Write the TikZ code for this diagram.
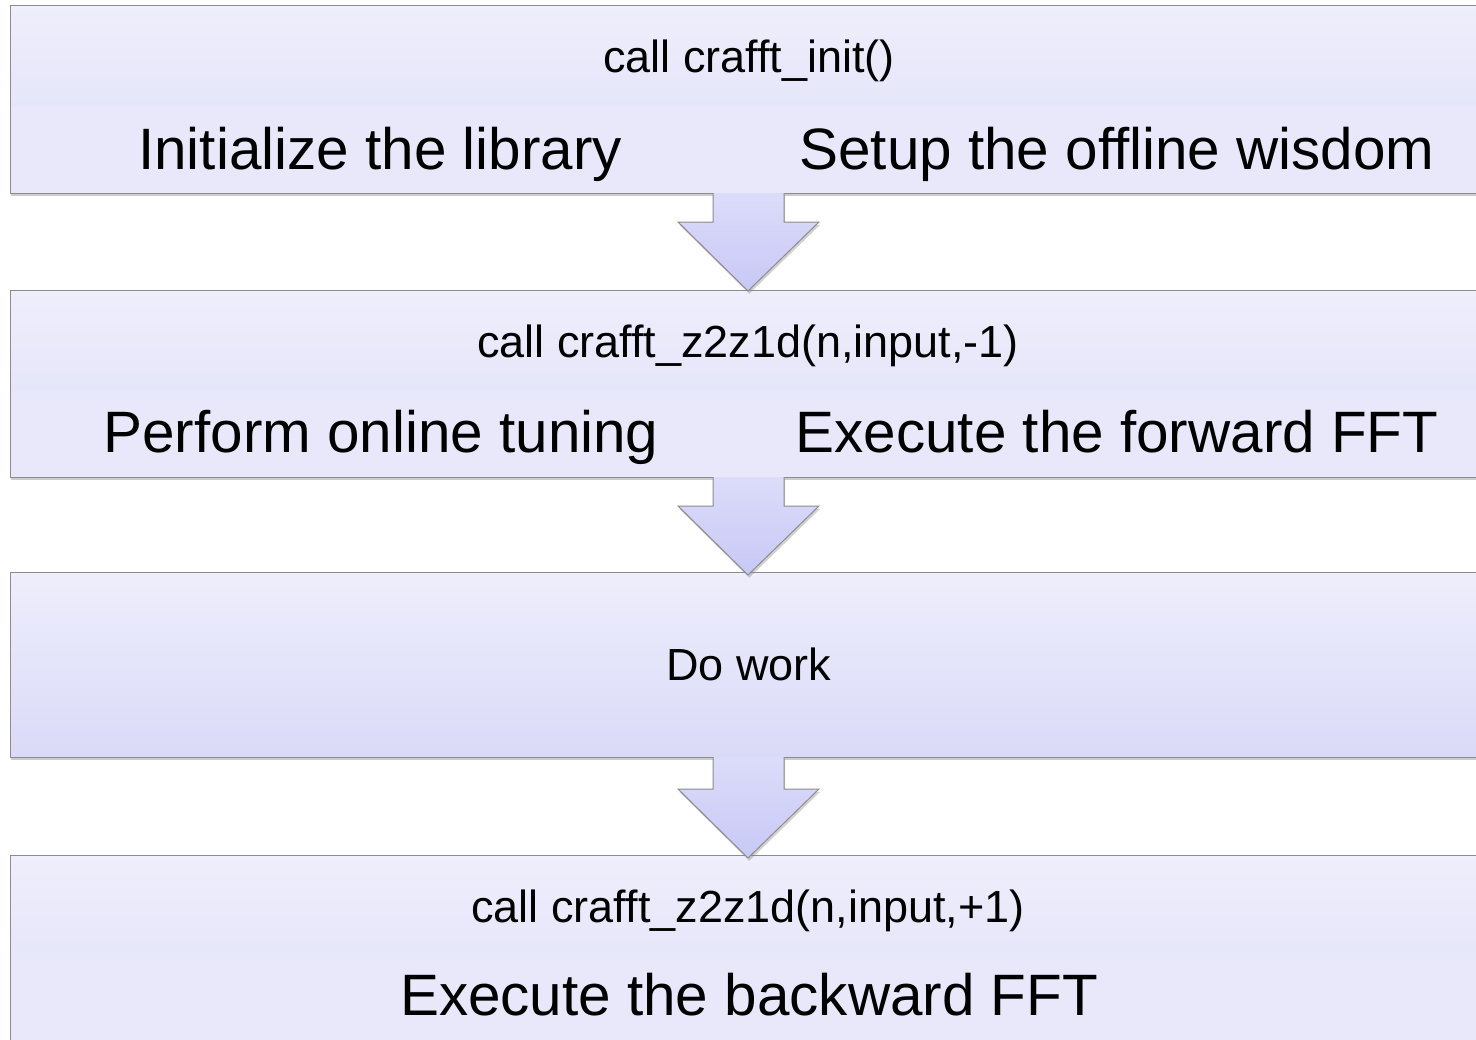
\documentclass[tikz,border=0pt]{standalone}
\usepackage{fontspec}
\setmainfont{Liberation Sans}
\usetikzlibrary{shadows}
\definecolor{hdtop}{HTML}{EEEEFC}
\definecolor{hdbot}{HTML}{DFDFF8}
\definecolor{band}{HTML}{E8E8FA}
\definecolor{midbot}{HTML}{DADAF8}
\definecolor{edge}{HTML}{8C8C8C}
\definecolor{artop}{HTML}{DCDCFA}
\definecolor{arbot}{HTML}{C8C8F6}
\tikzset{
  stagebox/.style={draw=edge, line width=0.5pt, fill=band, inner sep=0pt, outer sep=0pt,
    anchor=north west, minimum width=740pt,
    drop shadow={shadow xshift=0.6pt, shadow yshift=-1.6pt, opacity=0.4}},
  hdr/.style={path picture={\shade[top color=hdtop,bottom color=hdbot]
      (path picture bounding box.north west) rectangle ([yshift=-#1]path picture bounding box.north east);}},
  smalltxt/.style={anchor=base, inner sep=0pt, font=\fontsize{22.5pt}{27pt}\selectfont},
  bigtxt/.style={anchor=base, inner sep=0pt, font=\fontsize{29.2pt}{35pt}\selectfont},
  arrowfill/.style={top color=artop, bottom color=arbot,
    drop shadow={shadow xshift=0.6pt, shadow yshift=-1.4pt, opacity=0.35}},
  arrowline/.style={draw=edge, line width=0.5pt, line join=miter},
}
\newcommand\blockarrow[4]{%
  \coordinate (#1) at (748,#2);
  \shade[arrowfill] (713,#2) -- (713,#3) -- (678,#3) -- (748,#4) -- (819,#3) -- (784,#3) -- (784,#2) -- cycle;
  \draw[arrowline] (713,#2) -- (713,#3) -- (678,#3) -- (748,#4) -- (819,#3) -- (784,#3) -- (784,#2);
}
\begin{document}
\begin{tikzpicture}[x=0.5pt, y=-0.5pt]
\useasboundingbox (0,0) rectangle (1476,1039);
\fill[white] (0,0) rectangle (1476,1039);
\clip (0,0) rectangle (1476,1039);

% boxes
\node[stagebox, hdr=50pt, minimum height=94pt] (b1) at (10,5) {};
\node[stagebox, hdr=50pt, minimum height=93.5pt] (b2) at (10,290) {};
\node[stagebox, top color=hdtop, bottom color=midbot, minimum height=92.5pt] (b3) at (10,572) {};
\node[stagebox, hdr=48.5pt, minimum height=100pt] (b4) at (10,855) {};

% block arrows
\blockarrow{a1}{193}{222}{291}
\blockarrow{a2}{477}{506}{575}
\blockarrow{a3}{757}{789}{858}

% texts
\node[smalltxt] (t1) at (749,72) {call crafft\_init()};
\node[bigtxt] (t1a) at (380,169) {Initialize the library};
\node[bigtxt] (t1b) at (1117,169) {Setup the offline wisdom};

\node[smalltxt] (t2) at (748,357) {call crafft\_z2z1d(n,input,-1)};
\node[bigtxt] (t2a) at (381,452) {Perform online tuning};
\node[bigtxt] (t2b) at (1117,452) {Execute the forward FFT};

\node[smalltxt] (t3) at (749,680) {Do work};

\node[smalltxt] (t4) at (748,922) {call crafft\_z2z1d(n,input,+1)};
\node[bigtxt] (t4a) at (749,1015) {Execute the backward FFT};
\end{tikzpicture}
\end{document}
